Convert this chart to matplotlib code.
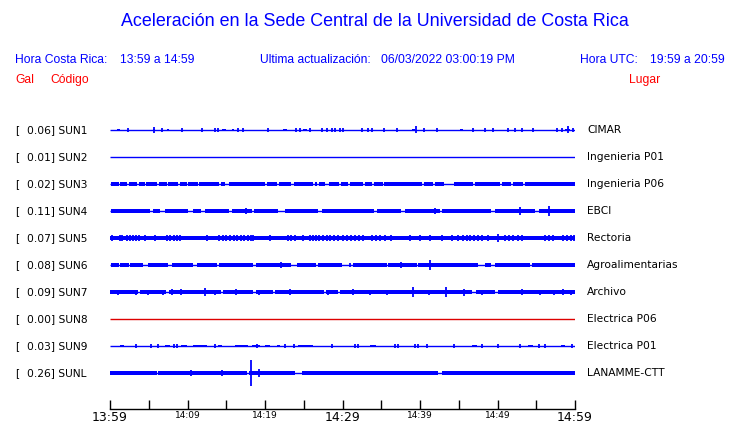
import matplotlib
matplotlib.use('Agg')
import matplotlib.pyplot as plt

# Estaciones (orden de arriba a abajo)
codes = ['SUN1', 'SUN2', 'SUN3', 'SUN4', 'SUN5', 'SUN6', 'SUN7', 'SUN8', 'SUN9', 'SUNL']
peak_gal = [0.06, 0.01, 0.02, 0.11, 0.07, 0.08, 0.09, 0.00, 0.03, 0.26]
places = ['CIMAR', 'Ingenieria P01', 'Ingenieria P06', 'EBCI', 'Rectoria',
          'Agroalimentarias', 'Archivo', 'Electrica P06', 'Electrica P01', 'LANAMME-CTT']

tick_times = [0, 10, 20, 30, 40, 50, 60]
tick_labels = ['13:59', '14:09', '14:19', '14:29', '14:39', '14:49', '14:59']

# amplitud de fondo, de tramos y de pulsos (px aprox.)
base_amp = [0.5, 0.5, 0.5, 0.5, 1.8, 0.5, 0.5, 0.5, 0.5, 0.5]
band_amp = [1.4, 0.0, 1.8, 1.7, 0.0, 1.8, 2.0, 0.0, 1.4, 1.7]
tick_amp = [1.7, 0.0, 0.0, 2.3, 2.6, 2.3, 2.5, 0.0, 1.8, 2.3]

# tramos con mas energia: (inicio, duracion) en minutos
sun1_band = [(0.85, 0.45), (5.5, 0.35), (7.3, 0.3), (14.4, 0.55), (15.7, 0.3), (22.35, 0.55),
             (24.95, 0.5), (38.95, 0.35), (45.2, 0.35), (58.7, 0.65)]
sun2_band = []
sun3_band = [(0.1, 1.0), (1.3, 0.9), (2.4, 1.1), (3.7, 0.8), (4.7, 1.4), (6.3, 1.0), (7.5, 1.3),
             (9.0, 0.9), (10.1, 1.2), (11.5, 2.5), (14.3, 0.6), (15.4, 4.6), (20.2, 1.4),
             (21.8, 1.6), (23.7, 2.5), (26.4, 0.3), (27.0, 0.7), (28.2, 1.3), (29.8, 0.9),
             (31.0, 1.6), (32.9, 0.9), (34.1, 1.1), (35.4, 4.8), (40.5, 1.2), (41.9, 1.2),
             (44.4, 2.4), (47.1, 3.2), (50.6, 1.2), (52.0, 1.3), (53.5, 6.5)]
sun4_band = [(0.1, 5.0), (5.6, 0.85), (7.1, 3.0), (10.75, 1.05), (12.3, 3.1), (15.7, 2.6),
             (18.6, 3.1), (22.6, 4.3), (27.3, 6.7), (34.4, 3.2), (38.1, 4.5), (42.9, 6.3),
             (49.7, 5.1), (55.3, 4.7)]
sun5_band = []
sun6_band = [(0.1, 1.0), (1.3, 1.1), (2.6, 1.6), (4.95, 2.5), (8.0, 2.75), (11.2, 2.6),
             (14.0, 4.5), (18.9, 4.5), (24.1, 2.5), (26.9, 3.0), (31.4, 4.3), (35.9, 3.7),
             (39.8, 7.7), (48.4, 0.8), (49.7, 4.5), (54.5, 5.5)]
sun7_band = [(0.0, 3.6), (3.9, 3.3), (7.6, 6.7), (14.6, 3.9), (18.8, 2.2), (21.3, 6.3),
             (27.9, 1.5), (29.7, 17.0), (47.2, 2.5), (50.0, 10.0)]
sun8_band = []
sun9_band = [(1.3, 0.55), (7.1, 0.6), (9.2, 0.7), (10.75, 1.75), (13.9, 0.5), (16.1, 1.7),
             (18.3, 1.05), (20.0, 0.7), (21.5, 0.4), (24.3, 1.9), (33.5, 0.8), (46.7, 0.6),
             (53.9, 0.7), (58.2, 0.5)]
sunl_band = [(0.0, 6.0), (6.2, 11.5), (17.9, 6.0), (24.8, 17.5), (42.9, 17.1)]

# pulsos pequeños (minutos)
sun1_ticks = [2.28, 6.67, 9.33, 11.91, 13.55, 13.98, 16.56, 17.2, 20.43, 23.96, 24.52, 25.81,
              27.4, 27.96, 28.6, 29.03, 29.68, 30.1, 32.47, 33.33, 33.76, 35.4, 36.99, 40.52,
              42.15, 46.88, 48.39, 49.46, 51.4, 52.26, 53.12, 54.54, 57.63, 58.28, 59.78]
sun2_ticks = []
sun3_ticks = []
sun4_ticks = [2.0, 4.4, 9.2, 13.0, 20.5, 24.0, 29.0, 32.0, 36.6, 44.0, 47.3, 58.9]
sun5_ticks = [0.2, 1.3, 1.5, 2.2, 2.6, 3.0, 3.4, 3.7, 4.5, 5.8, 7.3, 7.7, 8.2, 8.6, 9.0, 12.5,
              14.6, 15.0, 15.5, 16.0, 16.4, 16.9, 17.3, 17.8, 18.2, 18.5, 20.6, 23.0, 23.4,
              23.9, 24.9, 25.8, 26.2, 26.6, 27.0, 27.5, 28.0, 28.4, 28.9, 29.4, 30.1, 30.6,
              31.1, 31.6, 32.1, 32.6, 33.8, 34.3, 34.8, 35.5, 36.2, 38.7, 40.0, 41.3, 42.8,
              44.1, 44.9, 46.0, 46.5, 47.0, 47.5, 48.0, 48.8, 51.0, 51.5, 52.0, 52.6, 53.1,
              56.1, 56.6, 57.1, 58.5, 59.0, 59.5, 59.9]
sun6_ticks = [1.0, 3.2, 5.4, 9.6, 12.2, 17.5, 25.0, 29.8, 31.0, 33.8, 40.0, 45.0, 50.6, 56.3, 57.8]
sun7_ticks = [1.0, 3.4, 4.9, 6.9, 13.5, 19.2, 28.1, 33.6, 35.8, 41.2, 48.0, 55.5, 57.3, 59.5]
sun8_ticks = []
sun9_ticks = [3.3, 5.3, 6.2, 8.2, 8.6, 13.5, 19.0, 22.6, 23.7, 28.6, 31.6, 32.0, 36.8, 37.2,
              39.4, 39.8, 40.9, 44.4, 48.0, 50.1, 52.9, 55.3, 56.1, 59.6]
sunl_ticks = [4.0, 5.5, 7.5, 9.0, 12.0, 13.3, 16.0, 16.9, 21.0, 22.5, 30.0, 35.0, 38.0, 40.0,
              44.5, 47.0, 49.5, 52.0, 55.0, 58.0]

# picos mayores: tiempo (min) y semi-amplitud (px)
sun1_peak_t, sun1_peak_a = [5.72, 39.44, 59.05], [3.0, 3.5, 3.5]
sun2_peak_t, sun2_peak_a = [], []
sun3_peak_t, sun3_peak_a = [], []
sun4_peak_t, sun4_peak_a = [17.6, 41.9, 52.9, 56.7], [3.0, 2.6, 3.8, 5.0]
sun5_peak_t, sun5_peak_a = [14.0, 45.5, 50.1], [3.2, 2.8, 3.6]
sun6_peak_t, sun6_peak_a = [13.4, 15.9, 22.1, 37.5, 41.3, 53.2, 59.2], [2.4, 2.4, 2.8, 2.6, 4.8, 2.2, 2.4]
sun7_peak_t = [8.0, 9.2, 12.2, 16.2, 21.6, 23.2, 26.7, 31.4, 39.1, 43.3, 45.7, 53.2, 58.4]
sun7_peak_a = [3.0, 3.0, 4.2, 2.6, 2.4, 3.2, 2.4, 2.6, 5.2, 5.0, 3.5, 2.8, 2.6]
sun8_peak_t, sun8_peak_a = [], []
sun9_peak_t, sun9_peak_a = [], []
sunl_peak_t = [0.2, 2.0, 10.45, 14.5, 18.15, 19.27, 25.5, 28.0, 32.5]
sunl_peak_a = [2.4, 2.2, 2.8, 2.8, 12.5, 4.0, 2.2, 2.2, 2.4]

bands = [sun1_band, sun2_band, sun3_band, sun4_band, sun5_band,
         sun6_band, sun7_band, sun8_band, sun9_band, sunl_band]
ticks = [sun1_ticks, sun2_ticks, sun3_ticks, sun4_ticks, sun5_ticks,
         sun6_ticks, sun7_ticks, sun8_ticks, sun9_ticks, sunl_ticks]
peaks_t = [sun1_peak_t, sun2_peak_t, sun3_peak_t, sun4_peak_t, sun5_peak_t,
           sun6_peak_t, sun7_peak_t, sun8_peak_t, sun9_peak_t, sunl_peak_t]
peaks_a = [sun1_peak_a, sun2_peak_a, sun3_peak_a, sun4_peak_a, sun5_peak_a,
           sun6_peak_a, sun7_peak_a, sun8_peak_a, sun9_peak_a, sunl_peak_a]

W, H = 740, 423
BLUE, RED = '#0000ff', '#ff0000'
HDR = 'Liberation Sans'

fig = plt.figure(figsize=(W / 100, H / 100), dpi=100)


def fx(x):
    return x / W


def fy(y):
    return 1 - y / H


# Encabezado
fig.text(fx(375), fy(22), 'Aceleración en la Sede Central de la Universidad de Costa Rica',
         ha='center', va='center', color=BLUE, fontsize=12.9, family=HDR)
fig.text(fx(15), fy(60), 'Hora Costa Rica:', va='center', color=BLUE, fontsize=8.7, family=HDR)
fig.text(fx(120), fy(60), '13:59 a 14:59', va='center', color=BLUE, fontsize=8.7, family=HDR)
fig.text(fx(260), fy(60), 'Ultima actualización:', va='center', color=BLUE, fontsize=8.7, family=HDR)
fig.text(fx(381), fy(60), '06/03/2022 03:00:19 PM', va='center', color=BLUE, fontsize=8.7, family=HDR)
fig.text(fx(580), fy(60), 'Hora UTC:', va='center', color=BLUE, fontsize=8.7, family=HDR)
fig.text(fx(650), fy(60), '19:59 a 20:59', va='center', color=BLUE, fontsize=8.7, family=HDR)
fig.text(fx(15), fy(80), 'Gal', va='center', color=RED, fontsize=8.7, family=HDR)
fig.text(fx(50), fy(80), 'Código', va='center', color=RED, fontsize=8.7, family=HDR)
fig.text(fx(629), fy(80), 'Lugar', va='center', color=RED, fontsize=8.7, family=HDR)

# Eje de trazas: fila i a 27 px de la siguiente
ROW = 27.0
top_px, bot_px = 115, 409
ax = fig.add_axes([fx(110), 1 - bot_px / H, (575 - 110) / W, (bot_px - top_px) / H])
ax.set_xlim(0, 60)
ax.set_ylim((bot_px - 130) / ROW, -(130 - top_px) / ROW)
px = 1 / ROW

for i, code in enumerate(codes):
    col = '#dd0000' if code == 'SUN8' else BLUE
    if base_amp[i] > 1:
        ax.broken_barh([(0, 60)], (i - base_amp[i] * px, 2 * base_amp[i] * px),
                       facecolor=col, edgecolor='none')
    else:
        ax.hlines(i, 0, 60, color=col, lw=1.0)
    if bands[i]:
        ax.broken_barh(bands[i], (i - band_amp[i] * px, 2 * band_amp[i] * px),
                       facecolor=col, edgecolor='none')
    if ticks[i]:
        ax.vlines(ticks[i], i - tick_amp[i] * px, i + tick_amp[i] * px, color=col, lw=1.3)
    for t, a in zip(peaks_t[i], peaks_a[i]):
        ax.vlines(t, i - a * px, i + a * px, color=col, lw=1.3)

    y_fig = fy(130 + ROW * i)
    fig.text(fx(15), y_fig, '[', va='center', fontsize=7.7)
    fig.text(fx(27), y_fig, f'{peak_gal[i]:.2f}] {code}', va='center', fontsize=7.7)
    fig.text(fx(587), y_fig, places[i], va='center', fontsize=7.7)

for s in ['top', 'left', 'right']:
    ax.spines[s].set_visible(False)
ax.spines['bottom'].set_linewidth(1.0)
ax.set_yticks([])
ax.set_xticks(tick_times)
ax.set_xticklabels(tick_labels)
ax.set_xticks([5, 15, 25, 35, 45, 55], minor=True)
ax.tick_params(axis='x', which='both', direction='in', length=6.5, width=1.0, pad=1.5)
for lab, t in zip(ax.get_xticklabels(), tick_times):
    lab.set_fontsize(9 if t % 30 == 0 else 6.5)

fig.savefig('out.png', dpi=100)
